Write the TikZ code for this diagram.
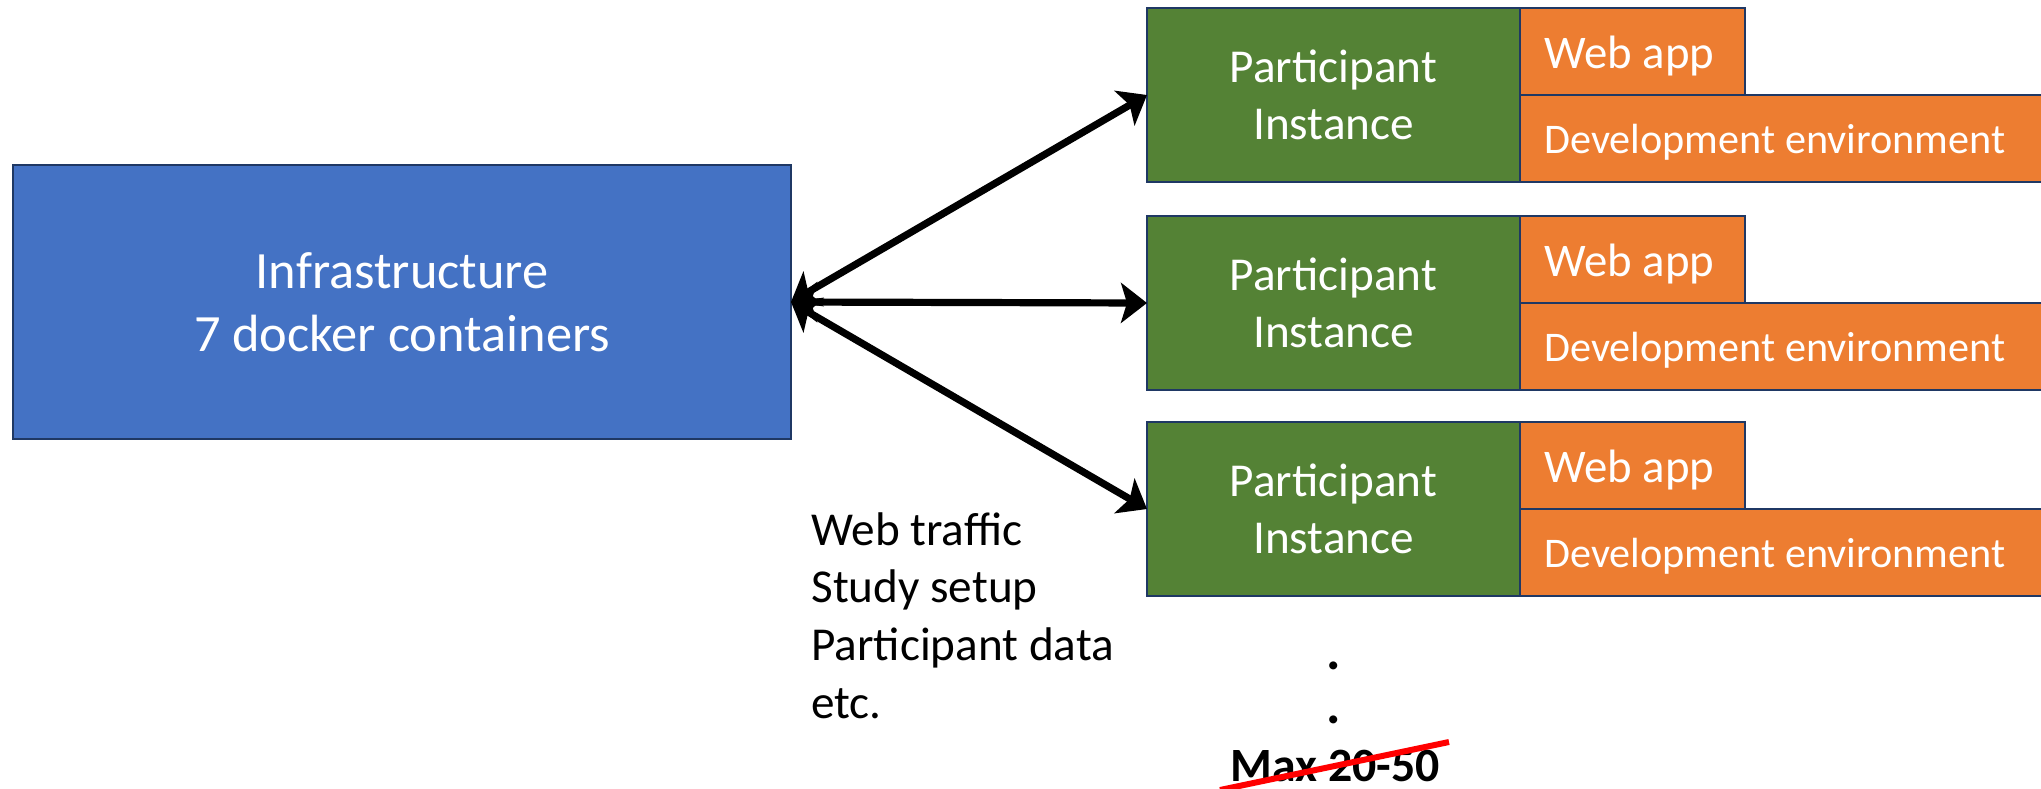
\documentclass[tikz,border=0pt]{standalone}
\usepackage{fontspec}
\setmainfont{Carlito}
\usetikzlibrary{arrows.meta,calc}
\definecolor{infrablue}{HTML}{4472C4}
\definecolor{partgreen}{HTML}{548235}
\definecolor{apporange}{HTML}{ED7D31}
\definecolor{navyline}{HTML}{1F3864}
\definecolor{strikered}{HTML}{FF0000}
\begin{document}
\begin{tikzpicture}[x=0.5pt,y=-0.5pt,
  box/.style={draw=navyline, line width=1pt, inner sep=0pt, outer sep=0pt, anchor=north west},
  infrabox/.style={box, fill=infrablue, minimum width=389pt, minimum height=137pt, text=white, align=center, font=\fontsize{26.2}{31.5}\selectfont},
  partbox/.style={box, fill=partgreen, minimum width=186.5pt, minimum height=87pt, text=white, align=center, font=\fontsize{23.6}{28.3}\selectfont},
  webbox/.style={box, fill=apporange, minimum width=112.5pt, minimum height=43.5pt},
  devbox/.style={box, fill=apporange, minimum width=275pt, minimum height=43.5pt},
  weblbl/.style={anchor=west, text=white, inner sep=0pt, yshift=-2.5pt, font=\fontsize{23.4}{28}\selectfont},
  devlbl/.style={anchor=west, text=white, inner sep=0pt, yshift=-2pt, font=\fontsize{21.1}{25}\selectfont},
  link/.style={line width=3.6pt, {Stealth[length=13pt,width=20pt,inset=3pt]}-{Stealth[length=13pt,width=20pt,inset=3pt]}},
  note/.style={anchor=base west, inner sep=0pt, align=left, font=\fontsize{23.6}{28.8}\selectfont},
  boldtxt/.style={anchor=base, inner sep=0pt, font=\bfseries\fontsize{23.9}{28.5}\selectfont},
  dottxt/.style={anchor=base, inner sep=0pt, font=\bfseries\fontsize{27}{27}\selectfont}
]
\useasboundingbox (0,0) rectangle (2041,788);
\clip (0,0) rectangle (2041,788);

\node[infrabox] (infra) at (13,165) {Infrastructure\\7 docker containers};

\foreach \i/\t in {1/8, 2/216, 3/422} {
  \node[partbox] (p\i) at (1147,\t) {Participant\\Instance};
  \node[webbox] (w\i) at (1520,\t) {};
  \node[devbox] (d\i) at (1520,\t+87) {};
  \node[weblbl] (wl\i) at ([xshift=12pt]w\i.west) {Web app};
  \node[devlbl] (dl\i) at ([xshift=12pt]d\i.west) {Development environment};
}

\draw[link] (infra.east) -- (p1.west);
\draw[link] (infra.east) -- (p2.west);
\draw[link] (infra.east) -- (p3.west);

\node[note] (notes) at (811,718) {Web traffic\\Study setup\\Participant data\\etc.};

\node[dottxt] (dot1) at (1334,669) {.};
\node[dottxt] (dot2) at (1334,723) {.};
\node[boldtxt] (maxn) at (1335,781) {Max 20-50};
\coordinate (s1) at (1220,790);
\coordinate (s2) at (1449,742);
\draw[strikered, line width=3pt] (s1) -- (s2);
\end{tikzpicture}
\end{document}
